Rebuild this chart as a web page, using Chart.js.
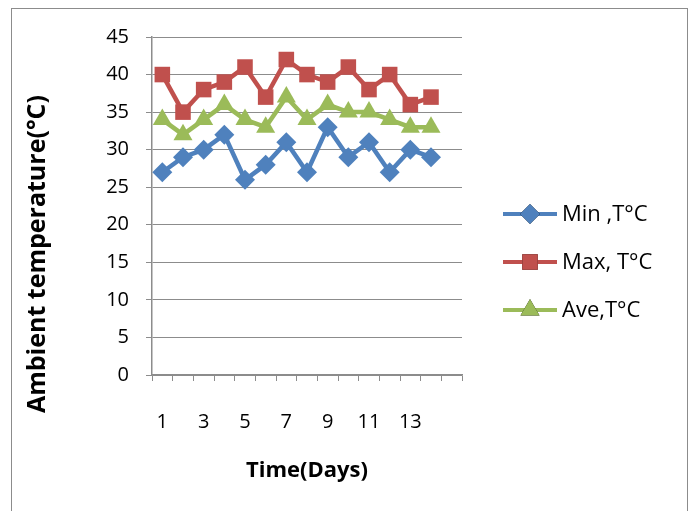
<!DOCTYPE html>
<html>
<head>
<meta charset="utf-8">
<script src="https://cdn.jsdelivr.net/npm/chart.js@4"></script>
<style>
  html,body{margin:0;padding:0;background:#fff;}
  #wrap{width:692px;height:511px;position:relative;}
</style>
</head>
<body>
<div id="wrap"><canvas id="c" width="692" height="511"></canvas></div>
<script>
// data
const days = ['1','2','3','4','5','6','7','8','9','10','11','12','13','14',''];
const minT = [27,29,30,32,26,28,31,27,33,29,31,27,30,29];
const maxT = [40,35,38,39,41,37,42,40,39,41,38,40,36,37];
const aveT = [34,32,34,36,34,33,37,34,36,35,35,34,33,33];
const yTicks = [0,5,10,15,20,25,30,35,40,45];
const yTitle = 'Ambient temperature(°C)';

const FONT = '"Open Sans", sans-serif';
const GRID = '#8c8c8c';

// frame, y title (sits lower than the axis centre) and legend drawn by hand
const extras = {
  id:'extras',
  beforeDraw(ch){
    let c=ch.ctx; c.save();
    c.fillStyle='#fff'; c.fillRect(0,0,ch.width,ch.height);
    c.strokeStyle='#8c8c8c'; c.lineWidth=1;
    c.strokeRect(11.5,8.5,676,520);
    c.restore();
  },
  afterDraw(ch){
    let c=ch.ctx; c.save();
    c.translate(38,254); c.rotate(-Math.PI/2);
    c.fillStyle='#000'; c.font='bold 25px '+FONT; c.textAlign='center'; c.textBaseline='middle';
    c.fillText(yTitle,0,0);
    c.restore(); c.save();
    ch.data.datasets.forEach((ds,i)=>{
      let y=214+i*48, x0=503, x1=557;
      c.strokeStyle=ds.borderColor; c.lineWidth=4;
      c.beginPath(); c.moveTo(x0,y); c.lineTo(x1,y); c.stroke();
      Chart.helpers.drawPoint(c,{pointStyle:ds.pointStyle,radius:ds.pointRadius,borderWidth:0,rotation:0},(x0+x1)/2,y);
      c.fillStyle=ds.borderColor; c.fill();
      c.fillStyle='#000'; c.font='22px '+FONT; c.textBaseline='middle';
      c.fillText(ds.label,x1+5,y+1);
    });
    c.restore();
  }
};

new Chart(document.getElementById('c'),{
  type:'line',
  data:{
    labels:days,
    datasets:[
      {label:'Min ,T°C',data:minT,borderColor:'#4f81bd',backgroundColor:'#4f81bd',pointStyle:'rectRot',pointRadius:10},
      {label:'Max, T°C',data:maxT,borderColor:'#c0504d',backgroundColor:'#c0504d',pointStyle:'rect',pointRadius:11},
      {label:'Ave,T°C',data:aveT,borderColor:'#9bbb59',backgroundColor:'#9bbb59',pointStyle:'triangle',pointRadius:11}
    ].map(d=>Object.assign(d,{borderWidth:4.5,tension:0,pointBorderWidth:0,pointHoverRadius:d.pointRadius}))
  },
  options:{
    responsive:false,animation:false,
    layout:{padding:{left:0,right:230,top:37,bottom:0}},
    plugins:{legend:{display:false},tooltip:{enabled:false}},
    scales:{
      x:{
        offset:true,
        grid:{display:true,drawOnChartArea:false,offset:true,color:GRID,tickLength:6,tickColor:GRID},
        border:{color:GRID,width:1.5},
        ticks:{autoSkip:false,maxRotation:0,padding:29,color:'#000',font:{family:FONT,size:20},
          callback:function(v,i){return i%2===0?this.getLabelForValue(v):'';}},
        title:{display:true,text:'Time(Days)',color:'#000',font:{family:FONT,size:22,weight:'bold'},padding:{top:4,bottom:27}},
        afterFit(s){s.height=136;}
      },
      y:{
        min:0,max:45,
        afterBuildTicks(s){s.ticks=yTicks.map(v=>({value:v}));},
        grid:{color:GRID,tickLength:6,tickColor:GRID},
        border:{color:GRID,width:1.5},
        ticks:{padding:17,color:'#000',font:{family:FONT,size:20}},
        afterFit(s){s.width=152;}
      }
    }
  },
  plugins:[extras]
});
</script>
</body>
</html>
